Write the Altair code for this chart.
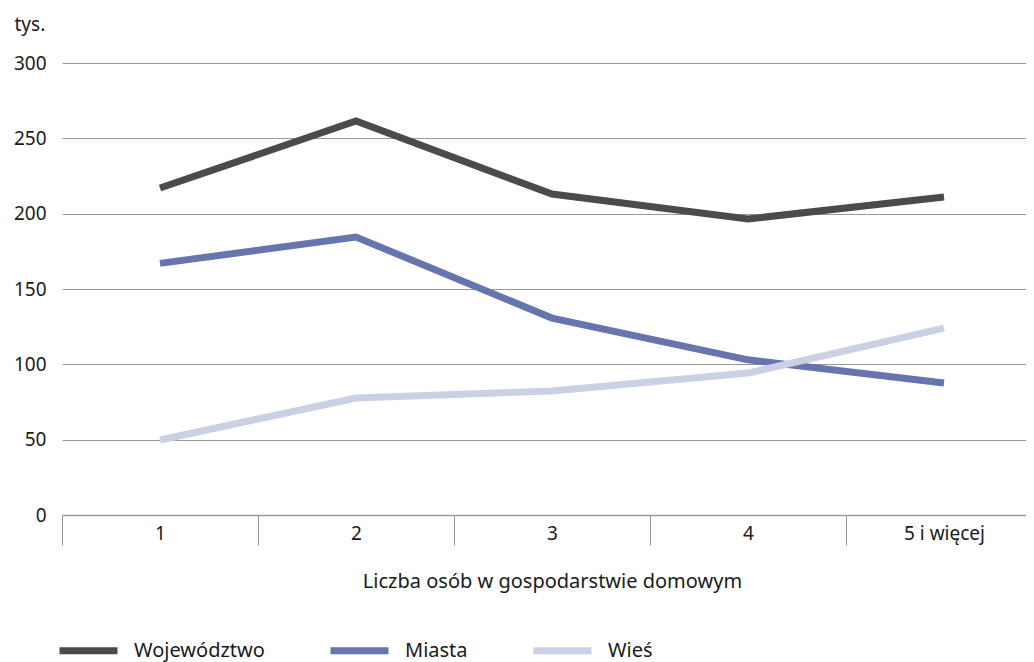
import altair as alt
import pandas as pd

categories = ["1", "2", "3", "4", "5 i więcej"]
series_names = ["Województwo", "Miasta", "Wieś"]
wojewodztwo = [217, 261.5, 213, 196.5, 211]
miasta = [167, 184.5, 130.7, 103, 87.6]
wies = [49.8, 77.6, 82.3, 94.2, 124]
colors = ["#4b4b4b", "#6675ad", "#cbd0e4"]

rows = []
for name, vals in zip(series_names, [wojewodztwo, miasta, wies]):
    for c, v in zip(categories, vals):
        rows.append({"kat": c, "seria": name, "wartosc": v})
df = pd.DataFrame(rows)

FONT = "Noto Sans"
TXT = "#1a1a1a"

chart = alt.Chart(df).mark_line(strokeWidth=7, strokeJoin="miter").encode(
    x=alt.X("kat:N", sort=categories,
            scale=alt.Scale(range=[0, 980], paddingInner=0, paddingOuter=0),
            axis=alt.Axis(title="Liczba osób w gospodarstwie domowym", labelAngle=0,
                          tickBand="extent", tickSize=30, tickColor="#999999", tickWidth=1,
                          domainColor="#999999", domainWidth=1.5,
                          labelPadding=-21, labelBaseline="top", labelFontSize=19,
                          labelColor=TXT, labelFont=FONT,
                          titleFontSize=20, titleFontWeight="normal", titleFont=FONT,
                          titleColor=TXT, titleY=72, titleBaseline="alphabetic",
                          titleX=490)),
    y=alt.Y("wartosc:Q", scale=alt.Scale(domain=[0, 300]),
            axis=alt.Axis(values=[0, 50, 100, 150, 200, 250, 300], ticks=False, domain=False,
                          labelPadding=16, labelFontSize=19, labelColor=TXT, labelFont=FONT,
                          gridColor="#999999", gridWidth=1,
                          title="tys.", titleAngle=0, titleAlign="left", titleX=-48, titleY=-33,
                          titleBaseline="alphabetic", titleFontSize=19, titleFontWeight="normal",
                          titleFont=FONT, titleColor=TXT)),
    color=alt.Color("seria:N", sort=series_names,
                    scale=alt.Scale(domain=series_names, range=colors),
                    legend=alt.Legend(title=None, orient="none", legendX=-6, legendY=555,
                                      padding=0, direction="horizontal", symbolType="stroke",
                                      symbolSize=3364, symbolStrokeWidth=7,
                                      labelFontSize=20, labelFont=FONT, labelColor=TXT,
                                      labelOffset=13, columnPadding=51)),
    detail="seria:N",
).properties(
    width=964, height=452,
    autosize=alt.AutoSizeParams(type="none"),
    padding={"left": 54, "top": 55, "right": 0, "bottom": 165},
).configure_view(stroke=None)

chart.save("out.html", embed_options={"renderer": "svg", "actions": False})
